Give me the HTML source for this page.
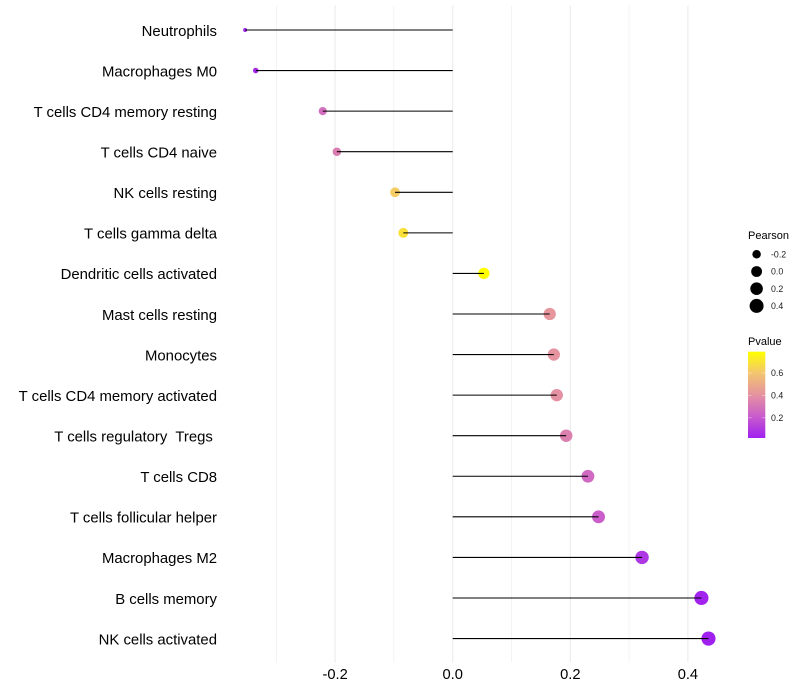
<!DOCTYPE html>
<html>
<head>
<meta charset="utf-8">
<title>Immune cell correlation lollipop chart</title>
<style>
html,body{margin:0;padding:0;background:#fff;}
svg{display:block;}
text{font-family:"Liberation Sans",Arial,sans-serif;white-space:pre;}
</style>
</head>
<body>
<svg id="chart" width="800" height="700" viewBox="0 0 800 700" xmlns="http://www.w3.org/2000/svg">
<defs>
<linearGradient id="pvalue-gradient" x1="0" y1="1" x2="0" y2="0"></linearGradient>
</defs>
<rect x="0" y="0" width="800" height="700" fill="#ffffff"/>
<g id="grid"></g>
<g id="marks"></g>
<g id="ylabels"></g>
<g id="xlabels"></g>
<g id="size-legend"></g>
<g id="color-legend"></g>
</svg>
<script>
var categories = ["Neutrophils","Macrophages M0","T cells CD4 memory resting","T cells CD4 naive","NK cells resting","T cells gamma delta","Dendritic cells activated","Mast cells resting","Monocytes","T cells CD4 memory activated","T cells regulatory  Tregs ","T cells CD8","T cells follicular helper","Macrophages M2","B cells memory","NK cells activated"];
var pearson = [-0.353,-0.335,-0.221,-0.197,-0.098,-0.084,0.053,0.165,0.172,0.177,0.193,0.230,0.248,0.322,0.423,0.435];
var pvalue = [0.03,0.05,0.28,0.33,0.62,0.69,0.79,0.42,0.41,0.40,0.34,0.26,0.22,0.09,0.03,0.02];
var xMajorTicks = [-0.2,0,0.2,0.4];
var xMinorTicks = [-0.3,-0.1,0.1,0.3];
var sizeLegendValues = [-0.2,0,0.2,0.4];
var colorLegendTicks = [0.2,0.4,0.6];

var NS = "http://www.w3.org/2000/svg";
function make(parent, tag, attrs, txt){
  var el = document.createElementNS(NS, tag);
  for (var k in attrs) el.setAttribute(k, attrs[k]);
  if (txt !== undefined) el.textContent = txt;
  parent.appendChild(el);
  return el;
}
function xScale(v){ return 452.7 + v * 588; }
function yScale(i){ return 30 + i * 40.57; }
var PANEL_TOP = 5.5, PANEL_BOTTOM = 662.5;
var SIZE_MIN = -0.353, SIZE_MAX = 0.435;
function radius(v){
  var t = (v - SIZE_MIN) / (SIZE_MAX - SIZE_MIN);
  t = Math.max(0, Math.min(1, t));
  return 2 + 5.1 * Math.sqrt(t);
}
var colorStops = [[0,160,32,240],[0.25,201,92,204],[0.5,229,146,160],[0.75,243,197,112],[1,255,255,0]];
var P_LOW = 0.02, P_HIGH = 0.79;
function colorAt(t){
  t = Math.max(0, Math.min(1, t));
  for (var i = 1; i < colorStops.length; i++){
    if (t <= colorStops[i][0]){
      var a = colorStops[i-1], b = colorStops[i], f = (t - a[0]) / (b[0] - a[0]);
      return "rgb(" + [1,2,3].map(function(c){ return Math.round(a[c] + (b[c]-a[c]) * f); }).join(",") + ")";
    }
  }
  return "rgb(255,255,0)";
}
function pColor(p){ return colorAt((p - P_LOW) / (P_HIGH - P_LOW)); }

var grid = document.getElementById("grid");
xMinorTicks.forEach(function(v){
  var l = make(grid, "line", {x1:xScale(v), x2:xScale(v), y1:PANEL_TOP, y2:PANEL_BOTTOM, stroke:"#ebebeb", "stroke-width":0.6});
  
  
});
xMajorTicks.forEach(function(v){
  var l = make(grid, "line", {x1:xScale(v), x2:xScale(v), y1:PANEL_TOP, y2:PANEL_BOTTOM, stroke:"#ebebeb", "stroke-width":1.07});
  
  
});

var marks = document.getElementById("marks");
categories.forEach(function(c, i){
  var dot = make(marks, "circle", {cx:xScale(pearson[i]), cy:yScale(i), r:radius(pearson[i]), fill:pColor(pvalue[i])});
  
  
  var stem = make(marks, "line", {x1:xScale(0), x2:xScale(pearson[i]), y1:yScale(i), y2:yScale(i), stroke:"#000000", "stroke-width":1.07});
  
  
});

var yl = document.getElementById("ylabels");
categories.forEach(function(c, i){
  var t = make(yl, "text", {x:217, y:yScale(i) + 5.8, "text-anchor":"end", "font-size":14.9, fill:"#000000"}, c);
  
  
});

var xl = document.getElementById("xlabels");
xMajorTicks.forEach(function(v){
  var t = make(xl, "text", {x:xScale(v), y:679, "text-anchor":"middle", "font-size":14.7, fill:"#000000"}, v === 0 ? "0.0" : v.toFixed(1));
  
  
});

var sl = document.getElementById("size-legend");
var sizeTitle = make(sl, "text", {x:748, y:239, "font-size":11, fill:"#000000"}, "Pearson");


sizeLegendValues.forEach(function(v, i){
  var cy = 254.3 + i * 17.2;
  var d = make(sl, "circle", {cx:756.6, cy:cy, r:radius(v), fill:"#000000"});
  
  
  var t = make(sl, "text", {x:771, y:cy + 3.2, "font-size":8.8, fill:"#1a1a1a"}, v === 0 ? "0.0" : v.toFixed(1));
  
  
});

var grad = document.getElementById("pvalue-gradient");
colorStops.forEach(function(s){
  make(grad, "stop", {offset:s[0], "stop-color":"rgb(" + s[1] + "," + s[2] + "," + s[3] + ")"});
});
var cl = document.getElementById("color-legend");
var colorTitle = make(cl, "text", {x:748, y:345, "font-size":11, fill:"#000000"}, "Pvalue");


var BAR_TOP = 351.7, BAR_BOTTOM = 438;
function legendY(p){ return BAR_BOTTOM - (p - P_LOW) / (P_HIGH - P_LOW) * (BAR_BOTTOM - BAR_TOP); }
var bar = make(cl, "rect", {x:748, y:BAR_TOP, width:17.3, height:BAR_BOTTOM - BAR_TOP, fill:"url(#pvalue-gradient)"});


colorLegendTicks.forEach(function(p){
  var y = legendY(p);
  var a = make(cl, "line", {x1:748, x2:751.5, y1:y, y2:y, stroke:"#ffffff", "stroke-opacity":0.6, "stroke-width":0.6});
  
  
  var b = make(cl, "line", {x1:761.8, x2:765.3, y1:y, y2:y, stroke:"#ffffff", "stroke-opacity":0.6, "stroke-width":0.6});
  
  
  var t = make(cl, "text", {x:771, y:y + 3.2, "font-size":8.8, fill:"#1a1a1a"}, p.toFixed(1));
  
  
});
</script>
</body>
</html>
